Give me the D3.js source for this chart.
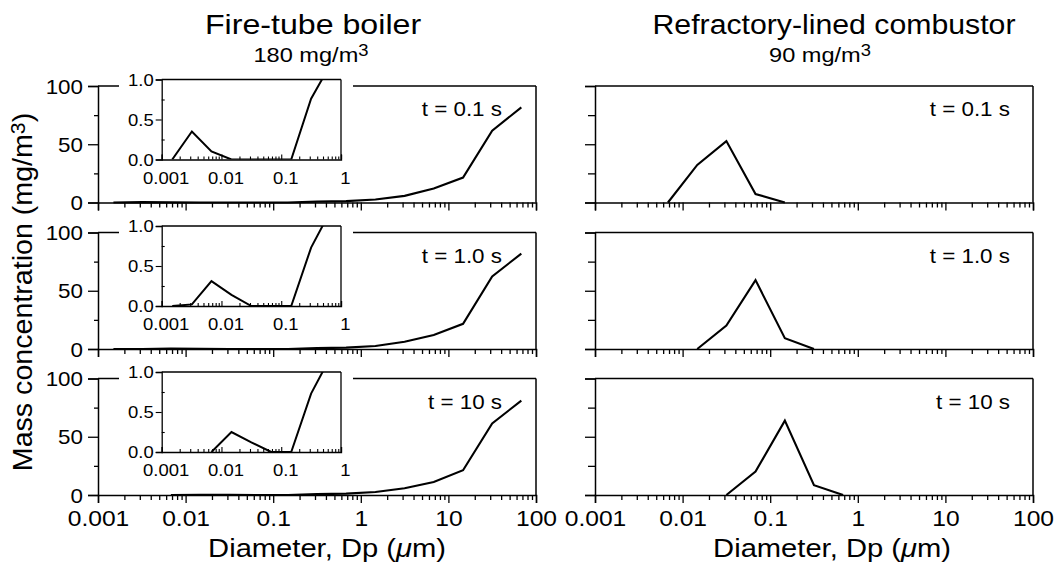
<!DOCTYPE html>
<html>
<head>
<meta charset="utf-8">
<script src="https://cdn.jsdelivr.net/npm/d3@7/dist/d3.min.js"></script>
<style>
  html, body { margin: 0; padding: 0; background: #fff; }
  text { font-family: "Liberation Sans", Arial, Helvetica, sans-serif; fill: #000; }
</style>
</head>
<body>
<svg id="chart" width="1055" height="564"></svg>
<script>
// ---------------- data ----------------
const diameters = [0.0015, 0.0032, 0.0068, 0.0147, 0.0316, 0.068, 0.147, 0.316, 0.68, 1.47, 3.16, 6.8, 14.7, 31.6, 68];

const fireTube_t01 = [0, 0.35, 0.10, 0, 0, 0, 0, 0.76, 1.2, 2.6, 5.7, 12.0, 21.4, 61.7, 81.7];
const fireTube_t1  = [0, 0.02, 0.31, 0.14, 0, 0, 0, 0.73, 1.2, 2.6, 6.2, 12.1, 21.6, 62.3, 81.9];
const fireTube_t10 = [0, 0, 0, 0.25, 0.12, 0, 0, 0.73, 1.2, 2.6, 5.8, 11.2, 21.3, 61.5, 81.0];

const refractory_t01 = [0, 0, 0, 32.3, 52.7, 7.3, 0, 0, 0, 0, 0, 0, 0, 0, 0];
const refractory_t1  = [0, 0, 0, 0, 20.2, 59.1, 9.2, 0, 0, 0, 0, 0, 0, 0, 0];
const refractory_t10 = [0, 0, 0, 0, 0, 20.1, 63.8, 8.4, 0, 0, 0, 0, 0, 0, 0];

const timeLabels = ["t = 0.1 s", "t = 1.0 s", "t = 10 s"];
const xTickValues = [0.001, 0.01, 0.1, 1, 10, 100];
const xTickLabels = ["0.001", "0.01", "0.1", "1", "10", "100"];
const yTickValues = [0, 50, 100];
const yTickLabels = ["0", "50", "100"];
const yMinorTicks = [25, 75];
const insetXTickValues = [0.001, 0.01, 0.1, 1];
const insetXTickLabels = ["0.001", "0.01", "0.1", "1"];
const insetYTickValues = [0, 0.5, 1.0];
const insetYTickLabels = ["0.0", "0.5", "1.0"];
const insetYMinor = [0.25, 0.75];

const leftTitle = "Fire-tube boiler";
const leftSub = "180 mg/m";
const rightTitle = "Refractory-lined combustor";
const rightSub = "90 mg/m";
const xAxisTitle = "Diameter, Dp (";
const yAxisTitle = "Mass concentration (mg/m";

// ---------------- layout ----------------
const svg = d3.select("#chart");
const W = 1055, H = 564;
svg.append("rect").attr("width", W).attr("height", H).attr("fill", "#fff");

const SX = 1.12; // horizontal stretch of the typeface
const panelTops = [86, 232.5, 378.5];
const panelH = 116.5;
const leftRange = [98, 536];
const rightRange = [595, 1033];
const insetRange = [161.7, 341];
const insetH = 80;

function minorLogTicks(lo, hi) {
  const out = [];
  for (let e = Math.log10(lo); e < Math.log10(hi) - 1e-9; e++) {
    for (let m = 2; m <= 9; m++) out.push(m * Math.pow(10, e));
  }
  return out;
}

function stretchedText(g, x, y, str, size, anchor, k) {
  return g.append("text")
    .attr("transform", `translate(${x},${y}) scale(${k || SX},1)`)
    .attr("text-anchor", anchor || "middle")
    .attr("font-size", size)
    .text(str);
}

const lineGen = (x, y) => d3.line().x(d => x(d[0])).y(d => y(d[1]));

function activeSlice(vals) {
  let first = vals.findIndex(v => v > 0);
  let last = vals.length - 1 - [...vals].reverse().findIndex(v => v > 0);
  first = Math.max(0, first - 1);
  last = Math.min(vals.length - 1, last + 1);
  const pts = [];
  for (let i = first; i <= last; i++) pts.push([diameters[i], vals[i]]);
  return pts;
}

function drawPanel(row, range, series, showYLabels, showXLabels, withInset) {
  const top = panelTops[row];
  const bottom = top + panelH;
  const x = d3.scaleLog().domain([0.001, 100]).range(range);
  const y = d3.scaleLinear().domain([0, 100]).range([bottom, top]);
  const g = svg.append("g");

  // frame top + right
  g.append("line").attr("x1", range[0]).attr("x2", range[1]).attr("y1", top).attr("y2", top)
    .attr("stroke", "#000").attr("stroke-width", 1.5);
  g.append("line").attr("x1", range[1]).attr("x2", range[1]).attr("y1", top).attr("y2", bottom)
    .attr("stroke", "#000").attr("stroke-width", 1.5);

  // x axis
  const allX = xTickValues.concat(minorLogTicks(0.001, 100));
  const xa = g.append("g").attr("transform", `translate(0,${bottom})`)
    .call(d3.axisBottom(x).tickValues(allX).tickSizeOuter(0).tickSize(8)
      .tickFormat(d => {
        const i = xTickValues.findIndex(v => Math.abs(v - d) < 1e-12);
        return (showXLabels && i >= 0) ? xTickLabels[i] : "";
      }));
  xa.select(".domain").attr("stroke-width", 1.5);
  xa.selectAll(".tick line").attr("stroke-width", 1.3)
    .attr("y2", d => xTickValues.some(v => Math.abs(v - d) < 1e-12) ? 8 : 5);
  xa.selectAll(".tick text")
    .attr("font-size", 22).attr("font-family", null)
    .attr("y", 0).attr("dy", null)
    .attr("transform", `translate(0,31) scale(${SX},1)`);

  // y axis
  const ya = g.append("g").attr("transform", `translate(${range[0]},0)`)
    .call(d3.axisLeft(y).tickValues(yTickValues.concat(yMinorTicks)).tickSizeOuter(0).tickSize(10)
      .tickFormat(d => {
        const i = yTickValues.indexOf(d);
        return (showYLabels && i >= 0) ? yTickLabels[i] : "";
      }));
  ya.select(".domain").attr("stroke-width", 1.5);
  ya.selectAll(".tick line").attr("stroke-width", 1.3)
    .attr("x2", d => yTickValues.includes(d) ? -10 : (showYLabels ? -4 : -7));
  ya.selectAll(".tick text")
    .attr("font-size", 20).attr("font-family", null)
    .attr("x", 0).attr("dy", "0.36em")
    .attr("transform", `translate(-15,0) scale(${SX},1)`);

  // main curve
  const pts = withInset
    ? diameters.slice(series.findIndex(v => v > 0) - 1).map((d, i, arr) => [d, series[diameters.indexOf(d)]])
    : activeSlice(series);
  g.append("path").datum(pts)
    .attr("d", lineGen(x, y))
    .attr("fill", "none").attr("stroke", "#000").attr("stroke-width", 2.1)
    .attr("stroke-linejoin", "miter");

  // time label
  stretchedText(g, range[1] - 34 + (range === rightRange ? 11 : 0), top + 30, timeLabels[row], 20, "end");

  if (withInset) drawInset(g, top, series, row);
}

function drawInset(parent, panelTop, series, row) {
  const itop = panelTop - 6.5;
  const ibot = itop + insetH;
  const x = d3.scaleLog().domain([0.001, 1]).range(insetRange);
  const y = d3.scaleLinear().domain([0, 1]).range([ibot, itop]);
  const g = parent.append("g");

  // white backing that interrupts the panel frame
  g.append("rect").attr("x", 119).attr("y", itop - 9)
    .attr("width", 353 - 119).attr("height", insetH + 38).attr("fill", "#fff");

  const cid = "inset-clip-" + row;
  g.append("clipPath").attr("id", cid).append("rect")
    .attr("x", insetRange[0]).attr("y", itop)
    .attr("width", insetRange[1] - insetRange[0]).attr("height", insetH);

  // frame
  g.append("line").attr("x1", insetRange[0]).attr("x2", insetRange[1]).attr("y1", itop).attr("y2", itop)
    .attr("stroke", "#000").attr("stroke-width", 1.3);
  g.append("line").attr("x1", insetRange[1]).attr("x2", insetRange[1]).attr("y1", itop).attr("y2", ibot)
    .attr("stroke", "#000").attr("stroke-width", 1.3);

  const allX = insetXTickValues.concat(minorLogTicks(0.001, 1));
  const xa = g.append("g").attr("transform", `translate(0,${ibot})`)
    .call(d3.axisBottom(x).tickValues(allX).tickSizeOuter(0).tickSize(-5)
      .tickFormat(d => {
        const i = insetXTickValues.findIndex(v => Math.abs(v - d) < 1e-12);
        return i >= 0 ? insetXTickLabels[i] : "";
      }));
  xa.select(".domain").attr("stroke-width", 1.3);
  xa.selectAll(".tick line").attr("stroke-width", 1.1)
    .attr("y2", d => insetXTickValues.some(v => Math.abs(v - d) < 1e-12) ? -5 : -3);
  xa.selectAll(".tick text")
    .attr("font-size", 16.5).attr("font-family", null)
    .attr("y", 0).attr("dy", null)
    .attr("transform", `translate(4,24) scale(${SX},1)`);

  const ya = g.append("g").attr("transform", `translate(${insetRange[0]},0)`)
    .call(d3.axisLeft(y).tickValues(insetYTickValues.concat(insetYMinor)).tickSizeOuter(0).tickSize(6)
      .tickFormat(d => {
        const i = insetYTickValues.indexOf(d);
        return i >= 0 ? insetYTickLabels[i] : "";
      }));
  ya.select(".domain").attr("stroke-width", 1.3);
  ya.selectAll(".tick line").attr("stroke-width", 1.1)
    .attr("x2", d => insetYTickValues.includes(d) ? -6 : 3);
  ya.selectAll(".tick text")
    .attr("font-size", 16.5).attr("font-family", null)
    .attr("x", 0).attr("dy", "0.36em")
    .attr("transform", `translate(-8,0) scale(${SX},1)`);

  g.append("path").datum(activeSlice(series))
    .attr("clip-path", `url(#${cid})`)
    .attr("d", lineGen(x, y))
    .attr("fill", "none").attr("stroke", "#000").attr("stroke-width", 2);
}

const leftSeries = [fireTube_t01, fireTube_t1, fireTube_t10];
const rightSeries = [refractory_t01, refractory_t1, refractory_t10];
for (let r = 0; r < 3; r++) {
  drawPanel(r, leftRange, leftSeries[r], true, r === 2, true);
  drawPanel(r, rightRange, rightSeries[r], false, r === 2, false);
}

// ---------------- titles ----------------
function titleWithSup(x, y, base, size, k) {
  const t = svg.append("text")
    .attr("transform", `translate(${x},${y}) scale(${k},1)`)
    .attr("text-anchor", "middle").attr("font-size", size);
  t.append("tspan").text(base);
  t.append("tspan").attr("font-size", size * 0.78).attr("dy", -size * 0.28).text("3");
  return t;
}
stretchedText(svg, 313, 34, leftTitle, 27.5, "middle", 1.17);
titleWithSup(311, 62, leftSub, 20.5, 1.15);
stretchedText(svg, 834, 34, rightTitle, 27.5, "middle", 1.1);
titleWithSup(820, 62, rightSub, 20.5, 1.15);

// x axis titles
function xTitle(x) {
  const t = svg.append("text")
    .attr("transform", `translate(${x},557) scale(1.1,1)`)
    .attr("text-anchor", "middle").attr("font-size", 26.5);
  t.append("tspan").text(xAxisTitle);
  t.append("tspan").attr("font-style", "italic").text("\u03BC");
  t.append("tspan").text("m)");
}
xTitle(327);
xTitle(832);

// y axis title
const yt = svg.append("text")
  .attr("transform", "translate(32,292) rotate(-90) scale(1.06,1)")
  .attr("text-anchor", "middle").attr("font-size", 27);
yt.append("tspan").text(yAxisTitle);
yt.append("tspan").attr("font-size", 20).attr("dy", -7).text("3");
yt.append("tspan").attr("dy", 7).text(")");
</script>
</body>
</html>
